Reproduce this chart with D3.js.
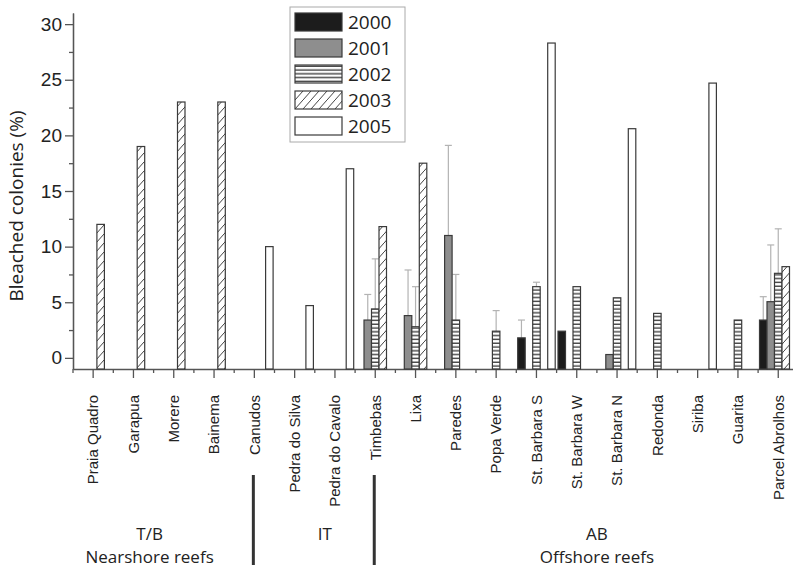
<!DOCTYPE html>
<html>
<head>
<meta charset="utf-8">
<script src="https://cdn.jsdelivr.net/npm/d3@7"></script>
<style>
  body { margin: 0; background: #fff; }
  svg { font-family: "Open Sans", "Noto Sans", sans-serif; }
  .axis path, .axis line { stroke: #555; stroke-width: 1.3; }
  .axis text { fill: #222; }
</style>
</head>
<body>
<div id="chart"></div>
<script>
// sites along the x axis
var sites = ["Praia Quadro", "Garapua", "Morere", "Bainema", "Canudos", "Pedra do Silva",
    "Pedra do Cavalo", "Timbebas", "Lixa", "Paredes", "Popa Verde", "St. Barbara S",
    "St. Barbara W", "St. Barbara N", "Redonda", "Siriba", "Guarita", "Parcel Abrolhos"];

var years = ["2000", "2001", "2002", "2003", "2005"];

// bleached colonies (%) per year, one entry per site (null = not sampled)
var bleach2000 = [null, null, null, null, null, null, null, null, null, null, null, 1.8, 2.4, null, null, null, null, 3.4];
var bleach2001 = [null, null, null, null, null, null, null, 3.4, 3.8, 11.0, null, null, null, 0.3, null, null, null, 5.05];
var bleach2002 = [null, null, null, null, null, null, null, 4.4, 2.8, 3.4, 2.4, 6.4, 6.4, 5.4, 4.0, null, 3.4, 7.6];
var bleach2003 = [12, 19, 23, 23, null, null, null, 11.8, 17.5, null, null, null, null, null, null, null, null, 8.2];
var bleach2005 = [null, null, null, null, 10, 4.7, 17, null, null, null, null, 28.3, null, 20.6, null, 24.7, null, null];

// upper error (SD) per year
var err2000 = [null, null, null, null, null, null, null, null, null, null, null, 1.6, null, null, null, null, null, 2.1];
var err2001 = [null, null, null, null, null, null, null, 2.3, 4.1, 8.1, null, null, null, null, null, null, null, 5.1];
var err2002 = [null, null, null, null, null, null, null, 4.5, 3.6, 4.1, 1.85, 0.4, null, null, null, null, null, 4.0];

var yTicks = [0, 5, 10, 15, 20, 25, 30];
var yMinorTicks = [2.5, 7.5, 12.5, 17.5, 22.5, 27.5];

var groups = [
    { name: "T/B", sub: "Nearshore reefs", first: "Praia Quadro", last: "Bainema" },
    { name: "IT", sub: "", first: "Pedra do Silva", last: "Pedra do Cavalo" },
    { name: "AB", sub: "Offshore reefs", first: "Lixa", last: "Parcel Abrolhos" }
];
var groupBreaks = ["Canudos", "Timbebas"];

var values = { "2000": bleach2000, "2001": bleach2001, "2002": bleach2002, "2003": bleach2003, "2005": bleach2005 };
var errors = { "2000": err2000, "2001": err2001, "2002": err2002 };

var data = [];
years.forEach(function(yr) {
    values[yr].forEach(function(v, i) {
        if (v != null) {
            data.push({ site: sites[i], year: yr, value: v, err: errors[yr] ? errors[yr][i] : null });
        }
    });
});

var width = 793, height = 567;

var svg = d3.select('#chart').append('svg')
    .attr('width', width)
    .attr('height', height);

var defs = svg.append('defs');

var stripe = defs.append('pattern')
    .attr('id', 'stripe')
    .attr('patternUnits', 'userSpaceOnUse')
    .attr('width', 8).attr('height', 3.8);
stripe.append('rect').attr('width', 8).attr('height', 3.8).attr('fill', '#fff');
stripe.append('line').attr('x1', 0).attr('x2', 8).attr('y1', 1.2).attr('y2', 1.2)
    .attr('stroke', '#333').attr('stroke-width', 1.3);

var hatch = defs.append('pattern')
    .attr('id', 'hatch')
    .attr('patternUnits', 'userSpaceOnUse')
    .attr('width', 8).attr('height', 9);
hatch.append('rect').attr('width', 8).attr('height', 9).attr('fill', '#fff');
hatch.append('path').attr('d', 'M0,9 L8,0 M-1,1 L1,-1 M7,10 L9,8')
    .attr('stroke', '#444').attr('stroke-width', 1);

var fills = { "2000": "#1c1c1c", "2001": "#8e8e8e", "2002": "url(#stripe)", "2003": "url(#hatch)", "2005": "#fff" };

var x = d3.scaleBand()
    .domain(sites)
    .range([73, 73 + 18 * 40.3])
    .padding(0);

var xYear = d3.scaleBand()
    .domain(years)
    .range([-18.75, 18.75]);

var y = d3.scaleLinear()
    .domain([-1, 31])
    .range([369, 13]);

function cx(site) { return x(site) + x.bandwidth() / 2; }

// y axis
var yAxis = d3.axisLeft(y).tickValues(yTicks).tickSize(8).tickSizeOuter(0);
var yMinor = d3.axisLeft(y).tickValues(yMinorTicks).tickSize(4).tickSizeOuter(0).tickFormat('');

svg.append('g').attr('class', 'axis y-minor')
    .attr('transform', 'translate(73,0)')
    .call(yMinor);

svg.append('g').attr('class', 'axis y-axis')
    .attr('transform', 'translate(73,0)')
    .call(yAxis)
    .selectAll('text')
    .style('font-size', '19px');

svg.append('text')
    .attr('transform', 'translate(23,206) rotate(-90)')
    .attr('text-anchor', 'middle')
    .style('font-size', '19px')
    .attr('fill', '#222')
    .text('Bleached colonies (%)');

// x axis
var xAxis = d3.axisBottom(x).tickSize(9).tickSizeOuter(0);

var xg = svg.append('g').attr('class', 'axis x-axis')
    .attr('transform', 'translate(0,' + y(-1) + ')')
    .call(xAxis);

xg.selectAll('text')
    .attr('transform', 'rotate(-90)')
    .attr('x', -26)
    .attr('y', 0)
    .attr('dy', '0.35em')
    .style('text-anchor', 'end')
    .style('font-size', '15px');

xg.selectAll('.minor')
    .data(sites)
    .enter()
    .append('line')
    .attr('class', 'minor')
    .attr('x1', function(d) { return x(d); })
    .attr('x2', function(d) { return x(d); })
    .attr('y1', 0)
    .attr('y2', 4);

// error bars
var eb = svg.append('g').attr('class', 'errors')
    .selectAll('g')
    .data(data.filter(function(d) { return d.err != null; }))
    .enter()
    .append('g')
    .attr('stroke', '#b3b3b3')
    .attr('stroke-width', 1.2);

eb.append('line')
    .attr('x1', function(d) { return cx(d.site) + xYear(d.year) + xYear.bandwidth() / 2; })
    .attr('x2', function(d) { return cx(d.site) + xYear(d.year) + xYear.bandwidth() / 2; })
    .attr('y1', function(d) { return y(d.value); })
    .attr('y2', function(d) { return y(d.value + d.err); });

eb.append('line')
    .attr('x1', function(d) { return cx(d.site) + xYear(d.year) + xYear.bandwidth() / 2 - 3.5; })
    .attr('x2', function(d) { return cx(d.site) + xYear(d.year) + xYear.bandwidth() / 2 + 3.5; })
    .attr('y1', function(d) { return y(d.value + d.err); })
    .attr('y2', function(d) { return y(d.value + d.err); });

// bars
svg.append('g').attr('class', 'bars')
    .selectAll('rect')
    .data(data)
    .enter()
    .append('rect')
    .attr('x', function(d) { return cx(d.site) + xYear(d.year); })
    .attr('y', function(d) { return y(d.value); })
    .attr('width', xYear.bandwidth())
    .attr('height', function(d) { return y(-1) - y(d.value); })
    .attr('fill', function(d) { return fills[d.year]; })
    .attr('stroke', '#3a3a3a')
    .attr('stroke-width', 1.2);

// legend
var legend = svg.append('g').attr('class', 'legend')
    .attr('transform', 'translate(290,7)');

legend.append('rect')
    .attr('width', 115).attr('height', 135)
    .attr('fill', '#fff')
    .attr('stroke', '#aaa')
    .attr('stroke-width', 1);

var item = legend.selectAll('.item')
    .data(years)
    .enter()
    .append('g')
    .attr('class', 'item')
    .attr('transform', function(d, i) { return 'translate(5,' + (6 + i * 26) + ')'; });

item.append('rect')
    .attr('width', 47).attr('height', 18)
    .attr('fill', function(d) { return fills[d]; })
    .attr('stroke', '#3a3a3a')
    .attr('stroke-width', 1.2);

item.append('text')
    .attr('x', 53).attr('y', 9)
    .attr('dy', '0.35em')
    .style('font-size', '19px')
    .attr('fill', '#222')
    .text(function(d) { return d; });

// reef groups
var nudge = { "T/B": -4, "IT": 10, "AB": 0 };
var grp = svg.append('g').attr('class', 'groups')
    .selectAll('g')
    .data(groups)
    .enter()
    .append('g')
    .attr('transform', function(d) {
        return 'translate(' + ((cx(d.first) + cx(d.last)) / 2 + nudge[d.name]) + ',0)';
    })
    .attr('text-anchor', 'middle')
    .style('font-size', '17px')
    .attr('fill', '#222');

grp.append('text').attr('y', 540).text(function(d) { return d.name; });
grp.append('text').attr('y', 563).text(function(d) { return d.sub; });

svg.append('g').attr('class', 'breaks')
    .selectAll('line')
    .data(groupBreaks)
    .enter()
    .append('line')
    .attr('x1', function(d) { return cx(d) - 1; })
    .attr('x2', function(d) { return cx(d) - 1; })
    .attr('y1', 475)
    .attr('y2', 565)
    .attr('stroke', '#333')
    .attr('stroke-width', 3);
</script>
</body>
</html>
